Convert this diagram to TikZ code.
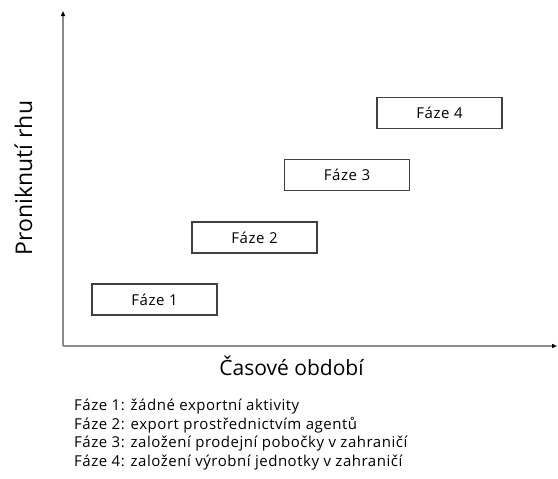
\documentclass[tikz,border=0pt]{standalone}
\usepackage{fontspec}
\setmainfont{Open Sans}
\usetikzlibrary{arrows.meta}
\begin{document}
\begin{tikzpicture}[x=1pt,y=-1pt,
  axis/.style={draw=black!45,line width=1.3pt,-{Triangle[length=5pt,width=4pt,fill=black,color=black]}},
  phasebox/.style={draw=black!75,line width=1.2pt,minimum width=125pt,minimum height=31pt,inner sep=0pt,font=\fontsize{15}{17}\selectfont\addfontfeature{LetterSpace=4}},
  axislabel/.style={font=\fontsize{21}{24}\selectfont,inner sep=0pt},
  legend/.style={font=\fontsize{15}{18.5}\selectfont\addfontfeature{LetterSpace=3.5},align=left,anchor=base west,inner sep=0pt}]
\useasboundingbox (0,0) rectangle (558,479);
\coordinate (o) at (63,346);
\coordinate (ytop) at (63,11);
\coordinate (xend) at (557,346);
\draw[axis] (o) -- (ytop);
\draw[axis] (o) -- (xend);
\node[phasebox] (f1) at (154.5,299.5) {Fáze 1};
\node[phasebox] (f2) at (254.5,237.5) {Fáze 2};
\node[phasebox] (f3) at (347,175) {Fáze 3};
\node[phasebox] (f4) at (439.5,113) {Fáze 4};
\node[axislabel,font=\fontsize{23}{26}\selectfont,rotate=90,anchor=base] (yl) at (32,178) {Proniknutí rhu};
\node[axislabel,anchor=base] (xl) at (291.5,375) {Časové období};
\node[legend] (l1) at (74,410.7) {Fáze 1: žádné exportní aktivity};
\node[legend] (l2) at (74,429) {Fáze 2: export prostřednictvím agentů};
\node[legend] (l3) at (74,447.5) {Fáze 3: založení prodejní pobočky v zahraničí};
\node[legend] (l4) at (74,466) {Fáze 4: založení výrobní jednotky v zahraničí};
\end{tikzpicture}
\end{document}
